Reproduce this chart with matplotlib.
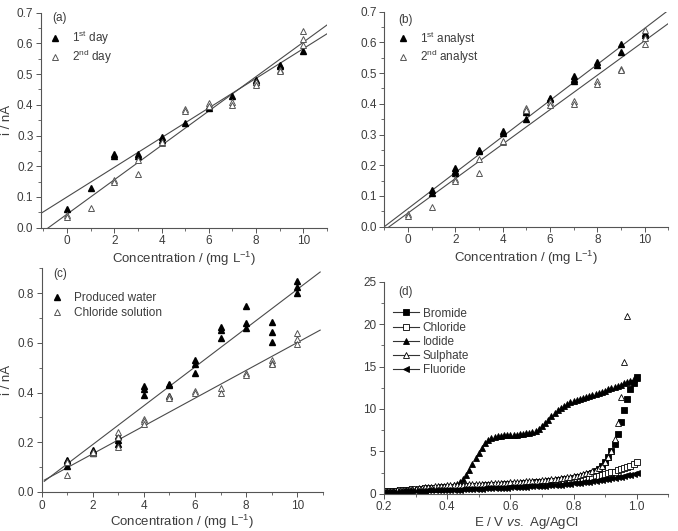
import matplotlib
matplotlib.use('Agg')
from matplotlib import pyplot as plt
from matplotlib.ticker import MultipleLocator
from matplotlib.lines import Line2D
import numpy as np

plt.rcParams['font.family'] = ['Liberation Sans', 'DejaVu Sans']
plt.rcParams['mathtext.fontset'] = 'custom'
plt.rcParams['mathtext.rm'] = 'Liberation Sans'
plt.rcParams['mathtext.it'] = 'Liberation Sans:italic'

TXT = '#3c3c3c'
LINE = '#4a4a4a'

# ---- panel (a): two days ----
day1_x = [0, 1, 2, 2, 3, 3, 4, 4, 5, 6, 6, 7, 8, 8, 9, 9, 10]
day1_y = [0.06, 0.13, 0.235, 0.24, 0.24, 0.235, 0.295, 0.285, 0.34, 0.39, 0.395,
          0.43, 0.48, 0.475, 0.53, 0.525, 0.575]
day2_x = [0, 0, 1, 2, 2, 3, 3, 4, 4, 5, 5, 6, 6, 7, 7, 8, 8, 9, 9, 10, 10, 10]
day2_y = [0.04, 0.035, 0.065, 0.155, 0.15, 0.22, 0.175, 0.275, 0.28, 0.385, 0.38,
          0.405, 0.395, 0.41, 0.40, 0.475, 0.465, 0.515, 0.51, 0.64, 0.615, 0.595]
fit_day1 = (0.0483, 0.100)   # slope, intercept
fit_day2 = (0.0560, 0.044)

# ---- panel (b): two analysts ----
an1_x = [1, 1, 2, 2, 2, 3, 3, 4, 4, 5, 5, 5, 6, 6, 7, 7, 7, 8, 8, 9, 9, 10, 10]
an1_y = [0.12, 0.11, 0.19, 0.18, 0.175, 0.25, 0.245, 0.31, 0.305, 0.38, 0.375, 0.35,
         0.42, 0.415, 0.49, 0.48, 0.475, 0.535, 0.525, 0.595, 0.57, 0.63, 0.625]
an2_x = day2_x
an2_y = day2_y
fit_an1 = (0.0587, 0.0587)
fit_an2 = (0.0561, 0.0443)

# ---- panel (c): produced water vs chloride solution ----
pw_x = [1, 1, 1, 2, 2, 2, 3, 3, 3, 4, 4, 4, 5, 5, 5, 6, 6, 6, 7, 7, 7, 8, 8, 8,
        9, 9, 9, 10, 10, 10]
pw_y = [0.13, 0.125, 0.105, 0.17, 0.16, 0.155, 0.225, 0.21, 0.195, 0.425, 0.415, 0.39,
        0.435, 0.43, 0.385, 0.53, 0.515, 0.48, 0.665, 0.65, 0.62, 0.75, 0.68, 0.66,
        0.685, 0.645, 0.605, 0.85, 0.825, 0.80]
cs_x = [1, 1, 2, 2, 3, 3, 3, 4, 4, 4, 5, 5, 6, 6, 7, 7, 8, 8, 9, 9, 9, 10, 10, 10]
cs_y = [0.07, 0.12, 0.155, 0.16, 0.24, 0.22, 0.18, 0.295, 0.285, 0.275, 0.385, 0.38,
        0.405, 0.40, 0.42, 0.40, 0.48, 0.47, 0.53, 0.52, 0.515, 0.64, 0.615, 0.595]
fit_pw = (0.0780, 0.035)
fit_cs = (0.0559, 0.042)

# ---- panel (d): voltammograms ----
E = [0.20, 0.21, 0.22, 0.23, 0.24, 0.25, 0.26, 0.27, 0.28, 0.29,
     0.30, 0.31, 0.32, 0.33, 0.34, 0.35, 0.36, 0.37, 0.38, 0.39,
     0.40, 0.41, 0.42, 0.43, 0.44, 0.45, 0.46, 0.47, 0.48, 0.49,
     0.50, 0.51, 0.52, 0.53, 0.54, 0.55, 0.56, 0.57, 0.58, 0.59,
     0.60, 0.61, 0.62, 0.63, 0.64, 0.65, 0.66, 0.67, 0.68, 0.69,
     0.70, 0.71, 0.72, 0.73, 0.74, 0.75, 0.76, 0.77, 0.78, 0.79,
     0.80, 0.81, 0.82, 0.83, 0.84, 0.85, 0.86, 0.87, 0.88, 0.89,
     0.90, 0.91, 0.92, 0.93, 0.94, 0.95, 0.96, 0.97, 0.98, 0.99, 1.00]
bromide = [0.25, 0.27, 0.29, 0.31, 0.33, 0.35, 0.37, 0.39, 0.41, 0.43,
           0.45, 0.47, 0.49, 0.51, 0.53, 0.55, 0.57, 0.59, 0.61, 0.63,
           0.65, 0.67, 0.69, 0.71, 0.73, 0.75, 0.77, 0.79, 0.81, 0.83,
           0.85, 0.87, 0.90, 0.92, 0.95, 0.97, 1.00, 1.02, 1.05, 1.07,
           1.10, 1.13, 1.16, 1.19, 1.22, 1.25, 1.28, 1.31, 1.34, 1.37,
           1.40, 1.44, 1.48, 1.52, 1.56, 1.60, 1.65, 1.70, 1.75, 1.80,
           1.85, 1.93, 2.01, 2.10, 2.22, 2.35, 2.50, 2.70, 2.95, 3.30,
           3.75, 4.30, 5.00, 5.90, 7.10, 8.50, 9.90, 11.20, 12.30, 13.10, 13.75]
chloride = [0.30, 0.32, 0.34, 0.36, 0.38, 0.40, 0.43, 0.46, 0.49, 0.52,
            0.05, 0.58, 0.61, 0.64, 0.67, 0.70, 0.72, 0.74, 0.76, 0.78,
            0.80, 0.81, 0.83, 0.84, 0.86, 0.87, 0.89, 0.90, 0.92, 0.93,
            0.95, 0.97, 0.99, 1.01, 1.03, 1.05, 1.07, 1.08, 1.10, 1.11,
            1.13, 1.15, 1.17, 1.19, 1.21, 1.23, 1.26, 1.28, 1.31, 1.33,
            1.36, 1.38, 1.41, 1.44, 1.47, 1.50, 1.54, 1.58, 1.62, 1.66,
            1.70, 1.74, 1.79, 1.84, 1.89, 1.95, 2.01, 2.08, 2.15, 2.24,
            2.33, 2.42, 2.52, 2.63, 2.75, 2.88, 3.02, 3.17, 3.33, 3.55, 3.80]
iodide = [0.30, 0.33, 0.35, 0.38, 0.40, 0.43, 0.45, 0.48, 0.50, 0.53,
          0.55, 0.58, 0.61, 0.64, 0.67, 0.70, 0.73, 0.76, 0.80, 0.83,
          0.87, 0.92, 1.00, 1.12, 1.40, 1.80, 2.25, 2.85, 3.50, 4.20,
          4.85, 5.45, 5.95, 6.35, 6.60, 6.75, 6.82, 6.86, 6.88, 6.90,
          6.92, 6.95, 6.98, 7.02, 7.07, 7.13, 7.20, 7.30, 7.45, 7.65,
          7.95, 8.35, 8.75, 9.15, 9.50, 9.85, 10.15, 10.40, 10.60, 10.78,
          10.92, 11.05, 11.17, 11.29, 11.41, 11.53, 11.65, 11.77, 11.90, 12.03,
          12.16, 12.30, 12.44, 12.58, 12.72, 12.87, 13.02, 13.17, 13.33, 13.50, 13.70]
sulphate = [0.30, 0.33, 0.36, 0.39, 0.42, 0.45, 0.48, 0.51, 0.54, 0.57,
            0.60, 0.65, 0.70, 0.75, 0.80, 0.85, 0.88, 0.91, 0.94, 0.97,
            1.00, 1.01, 1.03, 1.04, 1.06, 1.07, 1.09, 1.10, 1.12, 1.13,
            1.15, 1.17, 1.19, 1.21, 1.23, 1.25, 1.27, 1.29, 1.31, 1.33,
            1.35, 1.37, 1.40, 1.42, 1.45, 1.47, 1.50, 1.52, 1.55, 1.57,
            1.60, 1.64, 1.68, 1.72, 1.76, 1.80, 1.85, 1.90, 1.95, 2.00,
            2.05, 2.13, 2.21, 2.30, 2.40, 2.50, 2.64, 2.80, 3.00, 3.30,
            3.70, 4.30, 5.10, 6.50, 8.40, 11.40, 15.50, 21.00]
fluoride = [0.20, 0.21, 0.23, 0.24, 0.26, 0.27, 0.29, 0.30, 0.32, 0.33,
            0.35, 0.36, 0.37, 0.39, 0.40, 0.41, 0.42, 0.43, 0.44, 0.45,
            0.46, 0.47, 0.49, 0.50, 0.51, 0.52, 0.54, 0.55, 0.56, 0.58,
            0.60, 0.61, 0.63, 0.64, 0.66, 0.67, 0.69, 0.70, 0.72, 0.73,
            0.75, 0.77, 0.79, 0.81, 0.83, 0.85, 0.87, 0.89, 0.91, 0.93,
            0.95, 0.97, 0.99, 1.01, 1.03, 1.05, 1.09, 1.13, 1.17, 1.21,
            1.25, 1.29, 1.33, 1.37, 1.41, 1.45, 1.50, 1.55, 1.60, 1.65,
            1.70, 1.76, 1.82, 1.88, 1.94, 2.00, 2.08, 2.17, 2.26, 2.35, 2.45]


def style(ax):
    for s in ['top', 'right']:
        ax.spines[s].set_visible(False)
    for s in ['left', 'bottom']:
        ax.spines[s].set_color('#555555')
        ax.spines[s].set_linewidth(0.8)
    ax.tick_params(which='major', direction='out', length=3.5, width=0.7,
                   colors='#555555', labelcolor=TXT, labelsize=8.5, pad=2)
    ax.tick_params(which='minor', direction='out', length=2, width=0.6,
                   colors='#555555')


def filled(ax, x, y, label):
    ax.plot(x, y, ls='none', marker='^', ms=5, mfc='black', mec='black',
            label=label, zorder=3)


def hollow(ax, x, y, label):
    ax.plot(x, y, ls='none', marker='^', ms=5, mfc='white', mec='#555555',
            mew=0.7, label=label, zorder=4)


def fitline(ax, fit, x0, x1):
    xs = np.array([x0, x1])
    ax.plot(xs, fit[0] * xs + fit[1], color=LINE, lw=0.8, zorder=2)


fig = plt.figure(figsize=(6.78, 5.31), dpi=100)
ax_a = fig.add_axes([0.0605, 0.5712, 0.4218, 0.4049])
ax_b = fig.add_axes([0.5668, 0.5731, 0.4189, 0.4049])
ax_c = fig.add_axes([0.0615, 0.0735, 0.4145, 0.4212])
ax_d = fig.add_axes([0.5664, 0.0700, 0.4193, 0.3995])

conc_label = r'Concentration / (mg L$^{-1}$)'
leg_kw = dict(frameon=False, fontsize=8.5, handlelength=1.0, handletextpad=0.9,
              labelspacing=0.05, labelcolor=TXT, borderaxespad=0)

# (a)
fitline(ax_a, fit_day1, -1.1, 11)
fitline(ax_a, fit_day2, -1.1, 11)
filled(ax_a, day1_x, day1_y, r'1$^{\rm st}$ day')
hollow(ax_a, day2_x, day2_y, r'2$^{\rm nd}$ day')
ax_a.set_xlim(-1.1, 11)
ax_a.set_ylim(0, 0.7)
ax_a.set_ylabel('i / nA', fontsize=9.5, color=TXT, labelpad=3)
ax_a.legend(loc='upper left', bbox_to_anchor=(0.013, 0.945), **leg_kw)
ax_a.text(0.038, 0.975, '(a)', transform=ax_a.transAxes, fontsize=8.5, color=TXT,
          va='center')

# (b)
fitline(ax_b, fit_an1, -1, 11)
fitline(ax_b, fit_an2, -1, 11)
filled(ax_b, an1_x, an1_y, r'1$^{\rm st}$ analyst')
hollow(ax_b, an2_x, an2_y, r'2$^{\rm nd}$ analyst')
ax_b.set_xlim(-1, 11)
ax_b.set_ylim(0, 0.7)
ax_b.legend(loc='upper left', bbox_to_anchor=(0.03, 0.94), **leg_kw)
ax_b.text(0.05, 0.96, '(b)', transform=ax_b.transAxes, fontsize=8.5, color=TXT,
          va='center')

for ax in (ax_a, ax_b):
    ax.xaxis.set_major_locator(MultipleLocator(2))
    ax.xaxis.set_minor_locator(MultipleLocator(1))
    ax.yaxis.set_major_locator(MultipleLocator(0.1))
    ax.yaxis.set_minor_locator(MultipleLocator(0.05))
    ax.set_xlabel(conc_label, fontsize=9.5, color=TXT, labelpad=2)

# (c)
fitline(ax_c, fit_pw, 0.1, 10.9)
fitline(ax_c, fit_cs, 0.1, 10.9)
filled(ax_c, pw_x, pw_y, 'Produced water')
hollow(ax_c, cs_x, cs_y, 'Chloride solution')
ax_c.set_xlim(0, 11)
ax_c.set_ylim(0, 0.9)
ax_c.xaxis.set_major_locator(MultipleLocator(2))
ax_c.xaxis.set_minor_locator(MultipleLocator(1))
ax_c.yaxis.set_major_locator(MultipleLocator(0.2))
ax_c.yaxis.set_minor_locator(MultipleLocator(0.1))
ax_c.set_xlabel(conc_label, fontsize=9.5, color=TXT, labelpad=1)
ax_c.set_ylabel('i / nA', fontsize=9.5, color=TXT, labelpad=3)
ax_c.legend(loc='upper left', bbox_to_anchor=(0.018, 0.915),
            **dict(leg_kw, labelspacing=0.25))
ax_c.text(0.04, 0.975, '(c)', transform=ax_c.transAxes, fontsize=8.5, color=TXT,
          va='center')

# (d)
curves = [
    ('Bromide', bromide, 's', 'black'),
    ('Chloride', chloride, 's', 'white'),
    ('Iodide', iodide, '^', 'black'),
    ('Sulphate', sulphate, '^', 'white'),
    ('Fluoride', fluoride, '<', 'black'),
]
handles = []
for name, vals, mk, face in curves:
    ax_d.plot(E[:len(vals)], vals, ls='none', marker=mk, ms=4,
              mfc=face, mec='black', mew=0.6)
    handles.append(Line2D([], [], color='#333333', lw=0.8, marker=mk, ms=4,
                          mfc=face, mec='black', mew=0.6, label=name))
ax_d.set_xlim(0.2, 1.1)
ax_d.set_ylim(0, 25)
ax_d.xaxis.set_major_locator(MultipleLocator(0.2))
ax_d.xaxis.set_minor_locator(MultipleLocator(0.1))
ax_d.yaxis.set_major_locator(MultipleLocator(5))
ax_d.yaxis.set_minor_locator(MultipleLocator(2.5))
ax_d.set_xlabel(r'E / V $\mathit{vs.}$ Ag/AgCl', fontsize=9.5, color=TXT, labelpad=1)
ax_d.legend(handles=handles, loc='upper left', bbox_to_anchor=(0.016, 0.9),
            frameon=False, fontsize=8.5, handlelength=2.2, handletextpad=0.3,
            labelspacing=0.18, labelcolor=TXT, borderaxespad=0)
ax_d.text(0.05, 0.95, '(d)', transform=ax_d.transAxes, fontsize=8.5, color=TXT,
          va='center')

for ax in (ax_a, ax_b, ax_c, ax_d):
    style(ax)

fig.savefig('out.png', dpi=100)
